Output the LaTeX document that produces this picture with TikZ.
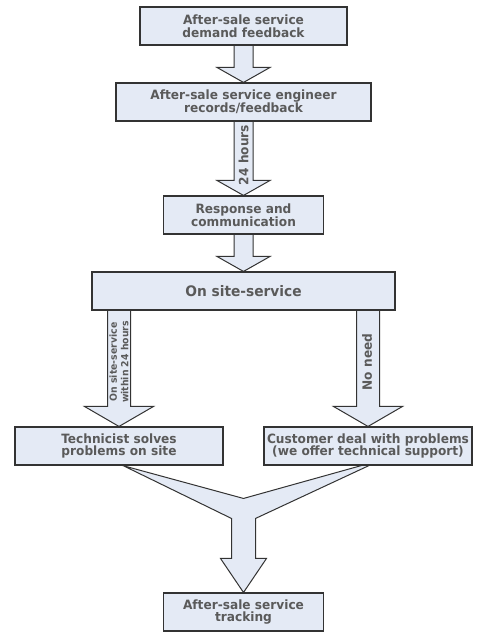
\documentclass[tikz,border=0pt]{standalone}
\usepackage{fontspec}
\setmainfont{DejaVu Sans}[FakeStretch=0.95]
\usetikzlibrary{calc,backgrounds}
\definecolor{boxfill}{HTML}{E4EAF5}
\definecolor{txtgray}{HTML}{5A5A5A}
\definecolor{edgegray}{HTML}{333333}
\tikzset{
  flowbox/.style={draw=edgegray, line width=1.1pt, fill=boxfill, rectangle, minimum height=38pt,
    inner sep=0pt, align=center, text=txtgray, font=\fontsize{12.8}{12.8}\selectfont\bfseries},
  barrow/.style={draw=edgegray, line width=1pt, fill=boxfill, line join=miter},
  arrlabel/.style={text=txtgray, rotate=90, align=center, inner sep=0pt, font=\fontsize{12.8}{12.8}\selectfont\bfseries},
}
\newcommand\blockdown[5]{%
  \draw[barrow] ($(#2.north |- #1.south)+(-#3,-2)$) -- ($(#2.north)+(-#3,-#5)$) -- ($(#2.north)+(-#4,-#5)$) -- (#2.north) -- ($(#2.north)+(#4,-#5)$) -- ($(#2.north)+(#3,-#5)$) -- ($(#2.north |- #1.south)+(#3,-2)$);}
\begin{document}
\begin{tikzpicture}[x=1pt,y=-1pt]
\node[flowbox, minimum width=207pt] (b1) at (243.5,26) {After-sale service\\demand feedback};
\node[flowbox, minimum width=255pt] (b2) at (243.5,102) {After-sale service engineer\\records/feedback};
\node[flowbox, minimum width=160pt] (b3) at (243.5,215) {Response and\\communication};
\node[flowbox, minimum width=303pt, font=\fontsize{14.5}{14.5}\selectfont\bfseries] (b4) at (243.5,291) {On site-service};
\node[flowbox, minimum width=208pt] (bl) at (119,446) {Technicist solves\\problems on site};
\node[flowbox, minimum width=208pt] (br) at (368,446) {Customer deal with problems\\(we offer technical support)};
\node[flowbox, minimum width=160pt] (b5) at (243.5,612) {After-sale service\\tracking};
\begin{pgfonlayer}{background}
\fill[white] (0,0) rectangle (494,636);
\blockdown{b1}{b2}{9.5}{26.5}{15}
\blockdown{b2}{b3}{9.5}{26.5}{15}
\blockdown{b3}{b4}{9.5}{26.5}{15}
\blockdown{b4}{bl}{11.5}{34.5}{20}
\blockdown{b4}{br}{11.5}{34.5}{20}
\draw[barrow] ($(bl.south)+(0,-1)$) -- ($(b5.north)+(0,-94)$) -- ($(br.south)+(-3,-1)$) -- ($(br.south)+(1,0)$)
  -- ($(b5.north)+(12,-74)$) -- ($(b5.north)+(12,-34)$) -- ($(b5.north)+(23,-34)$) -- (b5.north)
  -- ($(b5.north)+(-23,-34)$) -- ($(b5.north)+(-12,-34)$) -- ($(b5.north)+(-12,-74)$)
  -- ($(bl.south)+(4,0)$) -- cycle;
\end{pgfonlayer}
\node[arrlabel] (l24) at (243.5,155) {24 hours};
\node[arrlabel, font=\fontsize{9.8}{11.5}\selectfont\bfseries] (lsite) at (119,362) {On site-service\\within 24 hours};
\node[arrlabel] (lno) at (367,362) {No need};
\end{tikzpicture}
\end{document}
